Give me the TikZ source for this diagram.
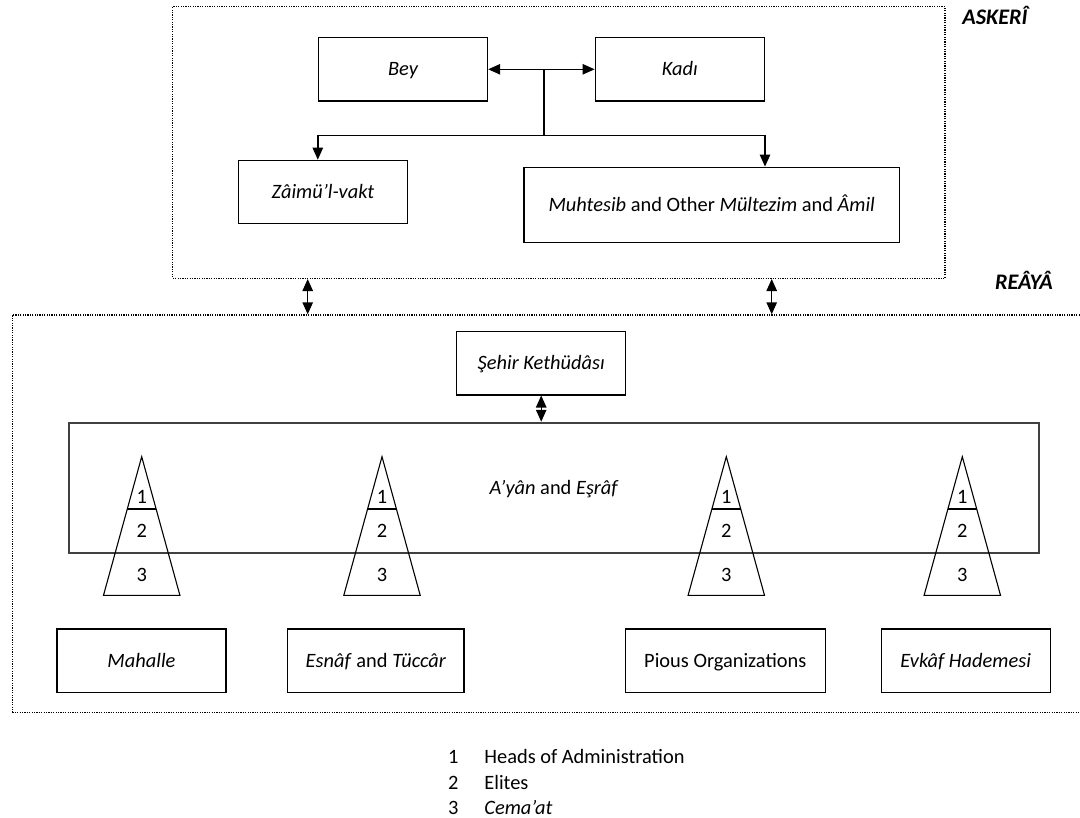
\documentclass[tikz,border=0pt]{standalone}
\usepackage{fontspec}
\setmainfont{Carlito}
\usetikzlibrary{arrows.meta,positioning,calc}

\begin{document}
\begin{tikzpicture}[
  x=0.5pt, y=-0.5pt,
  every node/.style={font=\fontsize{10.2}{12}\selectfont},
  layerbox/.style={
    rectangle, draw=black, line width=0.7pt,
    dash pattern=on 0.6pt off 0.6pt,
    inner sep=0pt
  },
  layertitle/.style={
    anchor=base, inner sep=0pt,
    font=\fontsize{11.1}{13}\selectfont\bfseries\itshape
  },
  rolebox/.style={
    rectangle, draw=black, line width=0.7pt,
    minimum width=84.5pt, minimum height=31.6pt,
    text height=0.9em, text depth=0.23em,
    inner sep=0pt, font=\fontsize{10.2}{12}\selectfont\itshape
  },
  elitebox/.style={
    rectangle, draw=black!75, line width=0.95pt,
    minimum width=485.15pt, minimum height=65pt,
    text height=0.9em, text depth=0.23em,
    inner sep=0pt
  },
  pyramid/.style={
    draw=black, line width=0.55pt
  },
  legendnum/.style={anchor=base, inner sep=0pt},
  legendtext/.style={anchor=base west, inner sep=0pt},
  twoway/.style={
    {Triangle[length=6pt,width=5.2pt]}-{Triangle[length=6pt,width=5.2pt]},
    line width=0.7pt
  },
  downarrow/.style={
    -{Triangle[length=6pt,width=5.2pt]}, line width=0.7pt
  },
]
\clip (0,0) rectangle (1080,818);

% --- Layers ---
\node[layerbox, minimum width=386.15pt, minimum height=135.8pt] (askeri) at (558.85,142.5) {};
\node[layerbox, minimum width=538.85pt, minimum height=198.85pt] (reaya) at (551.15,513.85) {};
\node[layertitle] (askerititle) at (994.9,25) {ASKERÎ};
\node[layertitle] (reayatitle) at (1024,289.3) {REÂYÂ};

% --- Askeri nodes ---
\node[rolebox] (bey) at (403,69.3) {Bey};
\node[rolebox] (kadi) at (679.8,69.3) {Kadı};
\node[rolebox] (zaimu) at (323,192) {Zâimü’l-vakt};
\node[rolebox, minimum width=187.65pt, minimum height=37.5pt,
  font=\fontsize{10.2}{12}\selectfont] (muhtesib) at (711.7,204.8)
  {\textit{Muhtesib} and Other \textit{Mültezim} and \textit{Âmil}};

% Bey <-> Kadi, branch down to the others
\draw[twoway] (bey) -- (kadi);
\coordinate (hub) at (544,69.3);
\coordinate (split) at (544,135.7);
\draw[line width=0.7pt] (hub) -- (split);
\draw[downarrow] (split) -| (bey.west |- zaimu.north);
\draw[downarrow] (split) -| (kadi.east |- muhtesib.north);

% Askeri <-> Reaya
\coordinate (linkL) at (307.7,0);
\coordinate (linkR) at (771.7,0);
\draw[twoway] (askeri.south -| linkL) -- (reaya.north -| linkL);
\draw[twoway] (askeri.south -| linkR) -- (reaya.north -| linkR);

% --- Reaya nodes ---
\node[rolebox] (sehir) at (541.2,363.2) {Şehir Kethüdâsı};
\node[elitebox] (ayan) at (554.2,487.7) {\textit{A’yân} and \textit{Eşrâf}};
\draw[twoway] (sehir) -- (sehir |- ayan.north);

% pyramids: 1 heads, 2 elites, 3 cema'at
\foreach \x [count=\i] in {141.7,382,726.3,962.3} {
  \draw[pyramid] (\x,456.7) -- (\x-38.2,595.3) -- (\x+38.2,595.3) -- cycle;
  \draw[pyramid] (\x-14.4,509) -- (\x+14.4,509);
  \node (top\i) at (\x,497.3) {1};
  \node (mid\i) at (\x,531) {2};
  \node (base\i) at (\x,575) {3};
}

\node[rolebox] (mahalle) at (141.5,660.7) {Mahalle};
\node[rolebox, minimum width=88.15pt, font=\fontsize{10.2}{12}\selectfont] (esnaf) at (375.9,660.7)
  {\textit{Esnâf} and \textit{Tüccâr}};
\node[rolebox, minimum width=100pt, font=\fontsize{10.2}{12}\selectfont] (pious) at (725.3,660.7)
  {Pious Organizations};
\node[rolebox] (evkaf) at (965.7,660.7) {Evkâf Hademesi};

% --- Legend ---
\node[legendnum] (numone) at (453.3,763.3) {1};
\node[legendtext] (legone) at (484,763.3) {Heads of Administration};
\node[legendnum] (numtwo) at (453.3,789.3) {2};
\node[legendtext] (legtwo) at (484,789.3) {Elites};
\node[legendnum] (numthree) at (453.3,814) {3};
\node[legendtext] (legthree) at (484,814) {\textit{Cema’at}};

\end{tikzpicture}
\end{document}
